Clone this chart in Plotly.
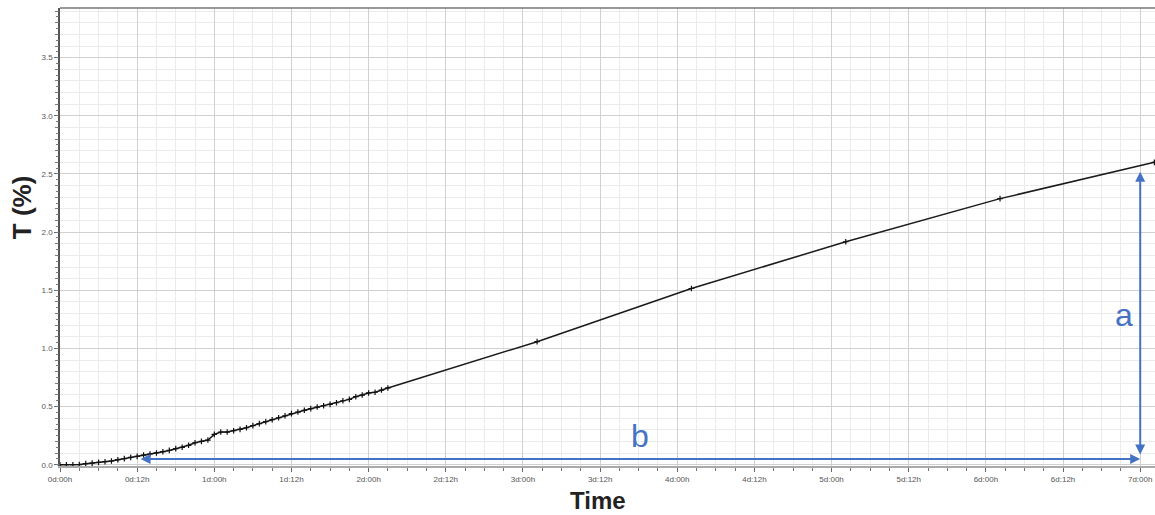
import plotly.graph_objects as go

# ---- data (time in hours, strain T in %) ----
hours = list(range(0, 52)) + [74.2, 98.2, 122.2, 146.2, 170.2]
t_pct = [0.000, 0.000, 0.000, 0.001, 0.009, 0.014, 0.020, 0.026, 0.032, 0.043,
         0.052, 0.063, 0.072, 0.083, 0.092, 0.101, 0.112, 0.123, 0.138, 0.150,
         0.167, 0.189, 0.201, 0.212, 0.261, 0.281, 0.281, 0.292, 0.304, 0.318,
         0.336, 0.353, 0.370, 0.387, 0.404, 0.421, 0.439, 0.453, 0.468, 0.482,
         0.496, 0.507, 0.519, 0.533, 0.550, 0.562, 0.585, 0.599, 0.617, 0.623,
         0.642, 0.660,
         1.058, 1.515, 1.917, 2.288, 2.600]

x_tick_vals = list(range(0, 169, 12))
x_tick_text = ["0d:00h", "0d:12h", "1d:00h", "1d:12h", "2d:00h", "2d:12h", "3d:00h",
               "3d:12h", "4d:00h", "4d:12h", "5d:00h", "5d:12h", "6d:00h", "6d:12h", "7d:00h"]
y_tick_vals = [0.0, 0.5, 1.0, 1.5, 2.0, 2.5, 3.0, 3.5]
y_tick_text = ["0.0", "0.5", "1.0", "1.5", "2.0", "2.5", "3.0", "3.5"]

# annotation arrows (data coordinates)
b_start, b_end, b_level = 12.3, 168.0, 0.05
a_x, a_bottom, a_top = 168.0, 0.075, 2.52

BLUE = "#4472C4"
TICKFONT = dict(family="Liberation Sans, Arial", size=8, color="#555")

fig = go.Figure()
fig.add_trace(go.Scatter(
    x=hours, y=t_pct, mode="lines+markers",
    line=dict(color="#1a1a1a", width=1.5),
    marker=dict(symbol="cross-thin", size=4, color="#111",
                line=dict(width=1.2, color="#111")),
    showlegend=False, hoverinfo="skip", cliponaxis=False))

# invisible helper trace for fine y ticks
fig.add_trace(go.Scatter(x=[hours[0]], y=[t_pct[0]], yaxis="y2", mode="markers",
                         marker=dict(opacity=0), showlegend=False, hoverinfo="skip"))

yr = [-0.011, 3.927]
fig.update_layout(
    width=1155, height=515,
    margin=dict(l=60, r=0, t=8, b=49),
    paper_bgcolor="white", plot_bgcolor="white",
    xaxis=dict(range=[0, 170.3], tickmode="array", tickvals=x_tick_vals, ticktext=x_tick_text,
               tickfont=TICKFONT, ticks="outside", ticklen=4, tickcolor="#666",
               showgrid=True, gridcolor="#d0d0d0", gridwidth=1,
               minor=dict(tickmode="linear", tick0=0, dtick=3, showgrid=True,
                          gridcolor="#ebebeb", gridwidth=1, ticks="outside", ticklen=3,
                          tickcolor="#777"),
               showline=True, linecolor="#aaa", linewidth=2, zeroline=False),
    yaxis=dict(range=yr, tickmode="array", tickvals=y_tick_vals, ticktext=y_tick_text,
               tickfont=TICKFONT, ticks="outside", ticklen=4, tickcolor="#666",
               showgrid=True, gridcolor="#d0d0d0", gridwidth=1,
               minor=dict(tickmode="linear", tick0=0, dtick=0.1, showgrid=True,
                          gridcolor="#ebebeb", gridwidth=1, ticks="outside", ticklen=3,
                          tickcolor="#777"),
               showline=True, linecolor="#555", linewidth=1.5, zeroline=False),
    yaxis2=dict(range=yr, overlaying="y", side="left", showgrid=False, zeroline=False,
                showticklabels=False, tickmode="linear", tick0=0, dtick=0.05,
                ticks="outside", ticklen=3, tickcolor="#777", showline=False),
    shapes=[dict(type="line", xref="paper", yref="paper", x0=0, x1=1, y0=1, y1=1,
                 line=dict(color="#777", width=1.5))],
)

annotations = [
    dict(x=b_end, y=b_level, ax=b_start, ay=b_level, xref="x", yref="y", axref="x", ayref="y",
         text="", showarrow=True, arrowhead=2, arrowside="end+start", arrowsize=1,
         arrowwidth=2, arrowcolor=BLUE),
    dict(x=a_x, y=a_top, ax=a_x, ay=a_bottom, xref="x", yref="y", axref="x", ayref="y",
         text="", showarrow=True, arrowhead=2, arrowside="end+start", arrowsize=1,
         arrowwidth=2, arrowcolor=BLUE),
    dict(x=165.5, y=1.29, xref="x", yref="y", text="a", showarrow=False,
         font=dict(family="Liberation Sans, Arial", size=32, color=BLUE)),
    dict(x=90.2, y=0.25, xref="x", yref="y", text="b", showarrow=False,
         font=dict(family="Liberation Sans, Arial", size=32, color=BLUE)),
    dict(x=0, y=0.565, xref="paper", yref="paper", xshift=-38, xanchor="center",
         yanchor="middle", text="<b>T (%)</b>", textangle=-90, showarrow=False,
         font=dict(family="Liberation Sans, Arial", size=26, color="#222")),
    dict(x=0.491, y=0, xref="paper", yref="paper", yshift=-34, xanchor="center",
         yanchor="middle", text="<b>Time</b>", showarrow=False,
         font=dict(family="Liberation Sans, Arial", size=24, color="#222")),
]
fig.update_layout(annotations=annotations)

fig.write_html(
    "out.html",
    config=dict(displayModeBar=False),
    post_script="document.body.style.margin='0';"
                "document.documentElement.style.overflow='hidden';"
                "document.body.style.overflow='hidden';")
